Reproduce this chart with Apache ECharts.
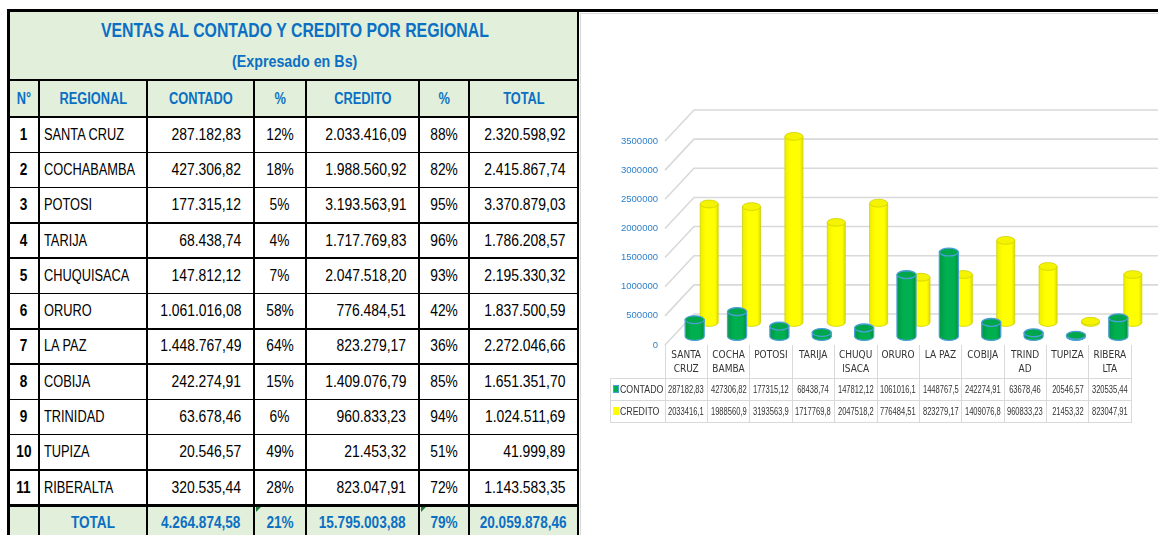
<!DOCTYPE html>
<html><head><meta charset="utf-8">
<script src="https://cdn.jsdelivr.net/npm/echarts@6/dist/echarts.min.js"></script>
<style>
body{margin:0;width:1158px;height:535px;overflow:hidden;position:relative;background:#fff;font-family:"Liberation Sans",Arial,sans-serif;}
.abs{position:absolute;}
.cell{position:absolute;display:flex;align-items:center;box-sizing:border-box;white-space:nowrap;}
.cell span{display:inline-block;}
</style></head><body>
<div id="left"></div>
<div id="chartbox" class="abs" style="left:580px;top:13px;width:600px;height:540px;border:1px solid #d9d9d9;box-sizing:border-box;background:#fff"></div>
<div id="chart" class="abs" style="left:580px;top:0;width:578px;height:535px"></div>
<div id="dtab"></div>
<div class="abs" style="left:7px;top:9px;width:1151px;height:3px;background:#000"></div>
<script>
// ---- data ----
const regions = ['SANTA CRUZ','COCHABAMBA','POTOSI','TARIJA','CHUQUISACA','ORURO','LA PAZ','COBIJA','TRINIDAD','TUPIZA','RIBERALTA'];
const chartLabels = ['SANTA\nCRUZ','COCHA\nBAMBA','POTOSI','TARIJA','CHUQU\nISACA','ORURO','LA PAZ','COBIJA','TRIND\nAD','TUPIZA','RIBERA\nLTA'];
const contado = [287182.83,427306.82,177315.12,68438.74,147812.12,1061016.08,1448767.49,242274.91,63678.46,20546.57,320535.44];
const credito = [2033416.09,1988560.92,3193563.91,1717769.83,2047518.20,776484.51,823279.17,1409076.79,960833.23,21453.32,823047.91];
const yTicks = [0,500000,1000000,1500000,2000000,2500000,3000000,3500000];
const headers = ['N°','REGIONAL','CONTADO','%','CREDITO','%','TOTAL'];
const seriesNames = ['CONTADO','CREDITO'];
const title = 'VENTAS AL CONTADO Y CREDITO POR REGIONAL';
const subtitle = '(Expresado en Bs)';

// ---- formatting ----
function fmtBs(v){
  const s = v.toFixed(2).split('.');
  return s[0].replace(/\B(?=(\d{3})+(?!\d))/g,'.') + ',' + s[1];
}
function fmtXl(v){
  const n = Math.floor(v).toString().length;
  const d = Math.min(2, Math.max(0, 8 - n));
  return v.toFixed(d).replace('.', ',');
}
function pct(a,b){ return Math.round(a/(a+b)*100) + '%'; }
function sp(t, s, o){ return `<span style="transform:scaleX(${s});transform-origin:${o} center">${t}</span>`; }

// ---- left table ----
const L = document.getElementById('left');
function div(style, html, cls){
  const d = document.createElement('div');
  d.className = cls || 'abs';
  Object.assign(d.style, style);
  if (html != null) d.innerHTML = html;
  L.appendChild(d); return d;
}
const colX = [8,39,147,254,306,419,469,578];
const rowH = 35.3, dataTop = 117, n = regions.length;
const totalTop = dataTop + n*rowH;
const GREEN_BG = '#E2EFDA', BLUE = '#0b6fc4';
div({left:'8px',top:'10px',width:'570px',height:'107px',background:GREEN_BG});
div({left:'8px',top:totalTop+'px',width:'570px',height:(540-totalTop)+'px',background:GREEN_BG});
// title
div({left:'8px',top:'12px',width:'574px',height:'36px',justifyContent:'center',color:BLUE,fontWeight:'bold',fontSize:'21px'}, sp(title,0.755,'center'), 'cell');
div({left:'8px',top:'47px',width:'574px',height:'30px',justifyContent:'center',color:BLUE,fontWeight:'bold',fontSize:'17px'}, sp(subtitle,0.84,'center'), 'cell');
// header
headers.forEach((h,c)=>{
  div({left:colX[c]+'px',top:'80px',width:(colX[c+1]-colX[c])+'px',height:'37px',justifyContent:'center',color:BLUE,fontWeight:'bold',fontSize:'16px'}, sp(h,0.8,'center'), 'cell');
});
// rows
let sumC = 0, sumK = 0;
regions.forEach((r,i)=>{
  const y = dataTop + i*rowH;
  const c = contado[i], k = credito[i];
  sumC += c; sumK += k;
  const vals = [String(i+1), r, fmtBs(c), pct(c,k), fmtBs(k), pct(k,c), fmtBs(c+k)];
  vals.forEach((v,col)=>{
    const st = {left:colX[col]+'px',top:y+'px',width:(colX[col+1]-colX[col])+'px',height:rowH+'px',fontSize:'16px',color:'#000'};
    let html;
    if (col===0){ st.justifyContent='center'; st.fontWeight='bold'; html=sp(v,0.85,'center'); }
    else if (col===1){ st.justifyContent='flex-start'; st.paddingLeft='5px'; html=sp(v,0.8,'left'); }
    else if (col===3||col===5){ st.justifyContent='center'; html=sp(v,0.86,'center'); }
    else { st.justifyContent='flex-end'; st.paddingRight='13px'; html=sp(v,0.87,'right'); }
    div(st, html, 'cell');
  });
});
const tvals = ['', 'TOTAL', fmtBs(sumC), pct(sumC,sumK), fmtBs(sumK), pct(sumK,sumC), fmtBs(sumC+sumK)];
tvals.forEach((v,col)=>{
  div({left:colX[col]+'px',top:totalTop+'px',width:(colX[col+1]-colX[col])+'px',height:rowH+'px',justifyContent:'center',fontSize:'16px',color:BLUE,fontWeight:'bold'}, sp(v,0.85,'center'), 'cell');
});
// green error triangles
[colX[3], colX[5]].forEach(x=>{
  div({left:(x+2)+'px',top:(totalTop+2)+'px',width:0,height:0,borderTop:'5px solid #1e7b3c',borderRight:'5px solid transparent'});
});
// lines
function hline(y,x1,x2,t){ div({left:x1+'px',top:(y-t/2)+'px',width:(x2-x1)+'px',height:t+'px',background:'#000'}); }
function vline(x,y1,y2,t){ div({left:(x-t/2)+'px',top:y1+'px',width:t+'px',height:(y2-y1)+'px',background:'#000'}); }
hline(80,8,578,2); hline(117,8,578,2);
for (let i=1;i<n;i++) hline(dataTop+i*rowH,8,578,1.5);
hline(totalTop,8,578,3);
vline(8.5,10,535,3); vline(578,10,535,2);
for (let c=1;c<colX.length-1;c++) vline(colX[c],80,535,2);

// ---- chart ----
const chart = echarts.init(document.getElementById('chart'), null, {renderer:'canvas'});
const DX = 29, DY = -31;
const cylCfg = {
  CONTADO:{dx:8.5, dy:-8.5, rx:9.5, ry:3.9,
    fill:new echarts.graphic.LinearGradient(0,0,1,0,[{offset:0,color:'#00963f'},{offset:0.35,color:'#00B050'},{offset:0.75,color:'#00B050'},{offset:1,color:'#008a3a'}]),
    top:'#00a64b', stroke:'#4a9fd8', lw:1.3},
  CREDITO:{dx:23, dy:-22.5, rx:9, ry:3.9,
    fill:new echarts.graphic.LinearGradient(0,0,1,0,[{offset:0,color:'#eeee00'},{offset:0.35,color:'#ffff00'},{offset:0.8,color:'#ffff00'},{offset:1,color:'#d9d900'}]),
    top:'#f4f400', stroke:'#d0d000', lw:0.8}
};
function cylinder(cfg){
  return function(params, api){
    const i = api.value(0), v = api.value(1);
    const b = api.coord([i,0]), t = api.coord([i,v]);
    const cx = b[0]+cfg.dx, yb = b[1]+cfg.dy, yt = t[1]+cfg.dy, rx = cfg.rx, ry = cfg.ry;
    const body = `M${cx-rx},${yt} L${cx-rx},${yb} A${rx},${ry} 0 0 0 ${cx+rx},${yb} L${cx+rx},${yt} Z`;
    const topE = `M${cx-rx},${yt} A${rx},${ry} 0 1 0 ${cx+rx},${yt} A${rx},${ry} 0 1 0 ${cx-rx},${yt} Z`;
    return {type:'group', children:[
      {type:'path', shape:{pathData:body}, style:{fill:cfg.fill, stroke:cfg.stroke, lineWidth:cfg.lw}},
      {type:'path', shape:{pathData:topE}, style:{fill:cfg.top, stroke:cfg.stroke, lineWidth:cfg.lw}}
    ]};
  };
}
chart.setOption({
  animation:false,
  grid:{left:85,right:27,top:141,bottom:190},
  xAxis:{type:'category', data:chartLabels,
    axisLine:{show:false},
    axisTick:{show:true, interval:0, length:77, lineStyle:{color:'#d9d9d9', width:1}},
    axisLabel:{interval:0, margin:4, fontSize:10, color:'#333333', lineHeight:13.5, fontFamily:'"DejaVu Sans Condensed","Liberation Sans",sans-serif', verticalAlign:'top'},
    splitLine:{show:false}},
  yAxis:{type:'value', min:0, max:3500000, interval:500000,
    axisLabel:{fontSize:9.5, color:'#2f80c9', margin:7, fontFamily:'"Liberation Sans",sans-serif', formatter:(v)=>String(v)},
    axisLine:{show:false}, axisTick:{show:false}, splitLine:{show:false}},
  series:[
    {type:'custom', name:'grid', silent:true, z:1, data:yTicks.map(v=>[0,v]),
     renderItem:(params, api)=>{
       const cs = params.coordSys;
       const y = api.coord([0, api.value(1)])[1];
       return {type:'polyline', shape:{points:[[cs.x,y],[cs.x+DX,y+DY],[api.getWidth(),y+DY]]},
               style:{stroke:'#d9d9d9', fill:null, lineWidth:1.6}};
     }},
    {type:'custom', name:seriesNames[1], z:2, data:credito.map((v,i)=>[i,v]), renderItem:cylinder(cylCfg.CREDITO)},
    {type:'custom', name:seriesNames[0], z:3, data:contado.map((v,i)=>[i,v]), renderItem:cylinder(cylCfg.CONTADO)}
  ]
});

// ---- data table under chart ----
const D = document.getElementById('dtab');
function ddiv(style, html){
  const d = document.createElement('div'); d.className='cell';
  Object.assign(d.style, style); if (html!=null) d.innerHTML = html; D.appendChild(d); return d;
}
const OX = 580;
const gx0 = OX + 85, gx1 = OX + 578 - 27;
const tLeft = 610, tTop = 378, tRow = 22;
[tTop, tTop+tRow, tTop+2*tRow].forEach(y=>ddiv({left:tLeft+'px',top:y+'px',width:(gx1-tLeft+1)+'px',height:'1px',background:'#d9d9d9'}));
ddiv({left:tLeft+'px',top:tTop+'px',width:'1px',height:(2*tRow)+'px',background:'#d9d9d9'});
const rowsData = [contado, credito];
const keyStyles = [{background:'#00B050',border:'1px solid #4a9fd8'},{background:'#ffff00',border:'1px solid #ffff00'}];
seriesNames.forEach((s,r)=>{
  const y = tTop + r*tRow;
  ddiv(Object.assign({left:(tLeft+3)+'px',top:(y+7)+'px',width:'6px',height:'8px'}, keyStyles[r]));
  ddiv({left:(tLeft+10)+'px',top:y+'px',height:tRow+'px',fontSize:'11px',color:'#333'}, sp(s,0.8,'left'));
  rowsData[r].forEach((v,i)=>{
    const cx = OX + chart.convertToPixel({xAxisIndex:0}, i);
    ddiv({left:(cx-21)+'px',top:y+'px',width:'42px',height:tRow+'px',justifyContent:'center',fontSize:'10.5px',color:'#333'}, sp(fmtXl(v),0.72,'center'));
  });
});
</script>
</body></html>
